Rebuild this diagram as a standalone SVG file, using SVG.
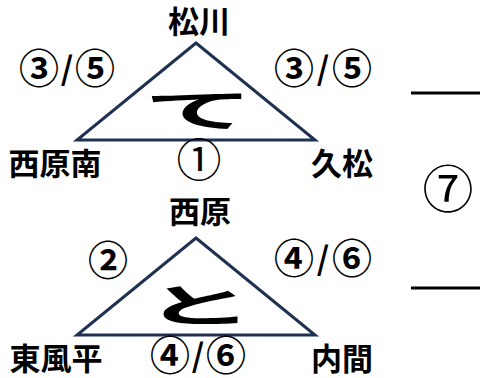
<svg xmlns="http://www.w3.org/2000/svg" width="480" height="378" viewBox="0 0 480 378">
<style>
.lbl{font-family:"Noto Sans CJK JP","Noto Sans CJK SC",sans-serif;font-weight:bold;font-size:31px;fill:#000;text-anchor:middle}
.num{font-family:"Noto Sans CJK JP","Noto Sans CJK SC",sans-serif;font-weight:bold;font-size:40px;fill:#000;text-anchor:middle}
.sl{font-family:"Noto Sans CJK JP","Noto Sans CJK SC",sans-serif;font-weight:bold;font-size:32px;fill:#000;text-anchor:middle}
.thin{font-weight:normal}
.big{font-family:"Noto Sans CJK JP","Noto Sans CJK SC",sans-serif;font-weight:bold;font-size:44px;fill:#000;text-anchor:middle}
.tri{fill:#fff;stroke:#1f3050;stroke-width:3;stroke-linejoin:miter}
.bar{stroke:#000;stroke-width:3}
</style>
<rect width="480" height="378" fill="#fff"/>
<g id="connectors">
<line class="bar" x1="411" y1="93" x2="480" y2="93"/>
<line class="bar" x1="411" y1="288" x2="480" y2="288"/>
</g>
<g id="tri-te">
<polygon class="tri" points="196,43 315,140 77,140"/>
<text class="big" transform="translate(199,127) scale(2.5,1)">て</text>
</g>
<g id="tri-to">
<polygon class="tri" points="196,238 315,335 77,335"/>
<text class="big" transform="translate(199,322) scale(2.5,1)">と</text>
</g>
<g id="n-matsukawa"><text class="lbl" x="199" y="33">松川</text></g>
<g id="n-nishiharaminami"><text class="lbl" x="55" y="175">西原南</text></g>
<g id="n-kumatsu"><text class="lbl" x="342" y="175">久松</text></g>
<g id="n-nishihara"><text class="lbl" x="200" y="223">西原</text></g>
<g id="n-kochinda"><text class="lbl" x="56" y="370">東風平</text></g>
<g id="n-uchima"><text class="lbl" x="342" y="370">内間</text></g>
<g id="labels">
<text class="num" x="39" y="83">③</text><text class="sl" x="67" y="80">/</text><text class="num" x="95" y="83">⑤</text>
<text class="num" x="294" y="83">③</text><text class="sl" x="323" y="80">/</text><text class="num" x="352" y="83">⑤</text>
<text class="num thin" x="199" y="177" style="font-size:45px">①</text>
<text class="num" x="108" y="275">②</text>
<text class="num" x="294" y="273">④</text><text class="sl" x="323" y="270">/</text><text class="num" x="352" y="273">⑥</text>
<text class="num" x="170" y="370">④</text><text class="sl" x="198" y="367">/</text><text class="num" x="226" y="370">⑥</text>
<text class="num thin" x="448" y="208" style="font-size:51px">⑦</text>
</g>
</svg>
